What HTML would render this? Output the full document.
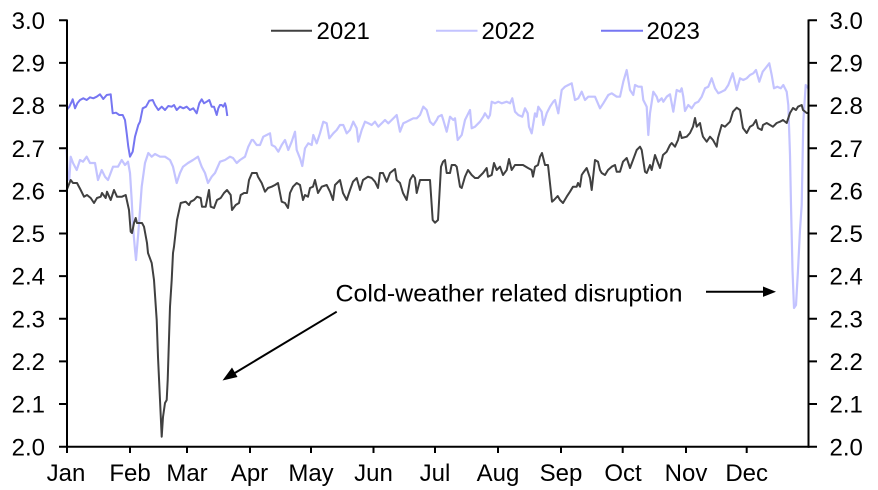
<!DOCTYPE html>
<html><head><meta charset="utf-8"><style>
html,body{margin:0;padding:0;background:#fff;}
svg{display:block;}
text{font-family:"Liberation Sans",Arial,sans-serif;font-size:24px;fill:#000;}
</style></head><body>
<svg width="878" height="490" viewBox="0 0 878 490" xmlns="http://www.w3.org/2000/svg">
<!-- 2022 -->
<polyline fill="none" stroke="#c3c3ff" stroke-width="2.2" stroke-linejoin="round" points="66.7,150 67.7,176.7 69.3,180 70.7,156.7 73,163 76.7,170 80,160 83,161.7 86.7,156.7 90,163 95,163 98,180 101.7,170 105,176.7 108,180 113,166.7 118,166.7 121.7,160 125,165 128,161.7 130,173 131.7,200 133,226.7 135,250 136,260 138.3,233 141.7,186.7 145,163 148.3,153 151.7,156.7 155,154 160,156.7 165,156.7 170,160 173,166.7 176.7,183 180,173 183,166.7 188,163 193,160 198,156.7 201.7,166.7 205,173 208,183 211.7,176.7 215,173 220,161.7 225,160 230,156.7 233,158 236.7,163 240,160 245,156.7 248.3,146.7 251.7,140 253,140 256.7,145 260,145 263.3,136.7 266.7,135 270,133.3 271.7,145 275,146.7 278.3,151.7 281.7,145 285,140 288.3,150 291.7,141.7 295,131.7 296.7,150 300,158.3 302.3,166 305,148.3 308.3,143.3 311.7,145 313.3,135 316.7,143.3 320,133.3 323.3,121.7 326.7,123.3 329.3,138.3 333.3,133.3 336.7,130 340,125 343.3,125 346.7,133.3 350,130 353.3,121.7 356.7,128.3 358.3,141.7 361.7,130 365,121.7 368.3,123.3 371.7,125 375,121.7 378.3,126.7 381.7,123.3 385,120 388.3,123.3 391.7,120 396.7,115 400,131.7 403.3,123.3 406.7,121.7 410,120 413.3,118.3 416.7,118.3 420,115 423.3,106.7 426.7,110 430,121.7 433.3,125 436.7,120 438.3,116.7 441.7,115 443.3,120 446.7,131.7 450,116.7 453.3,120 455,118.3 457.7,140 461.7,135 465,120 468.3,113.3 470,110 471.7,128.3 475,126.7 480,121.7 483.3,116.7 485,113.3 488.3,118.3 490,115 491.7,101.7 495,103.3 498.3,101.7 501.7,103.3 506.7,101.7 510,103.3 512.3,98.3 515,111.7 518.3,115 522.3,116.7 525,108.3 527.7,113.3 529,126.7 531.7,133.3 535,113.3 536.7,116.7 538.3,106.7 541.7,111.7 543.3,125 546.7,113.3 550,106.7 553.3,101.7 555,100 558.3,113.3 561.7,90 565,86.7 568.3,85 571.7,83.3 575,100 578.3,98.3 581.7,91.7 585,100 588.3,96.7 591.7,96.7 595,96.7 600,108.3 603.3,103.3 608.3,95 611.7,93.3 616.7,96.7 620,96.7 623.3,81.7 626.7,70 630,90 633.3,95 635,85 638.3,86.7 641.7,86.7 643.3,100 646.7,106.7 648.3,135 650,113.3 653.3,91.7 656.7,96.7 658.3,101.7 661.7,98.3 663.3,101.7 666.7,96.7 670,94.3 673.3,111.7 676.7,90 680,91.7 681.7,88.3 683.3,96.7 685,111 688.3,105 691.7,108.3 695,103.3 698.3,101.7 701.7,96.7 705,88.3 708.3,86.7 711.7,78.3 715,88.3 718.3,93.3 721.7,91.7 725,90 728.3,85 732.7,73.3 736.7,90 740,78.3 743.3,80 746.7,78.3 750,75 753.3,73.3 756,70 759.3,81.7 762.7,71.7 766.7,66.7 769.3,63.3 771.7,75 774,88.3 777.3,86.7 780.7,88.3 783.3,85 786.7,91.7 788.3,105 790,155 791,205 792.5,270 794,308 796,305 798,270 800,230 801.7,205 803.3,121.7 805.7,85 808.3,88.3"/>
<!-- 2021 -->
<polyline fill="none" stroke="#404040" stroke-width="2" stroke-linejoin="round" points="66.7,190 70.7,180 73,183 77,183 80.7,190 84,196.7 87,195 90.7,198 94,203 97,198 100.7,196.7 102,193 105.7,198 107,191.7 110.7,200 114,190 117,196.7 122,196.7 125.7,195 129,210 130.7,231.7 132,233 134,223 135.7,218 137,223 142,223 144,226.7 147,243 148,253 151.7,263 154,280 156.7,320 158,357 160,400 161.7,436.7 163,417 165,403 166.7,400 167.7,380 170,306.7 171.7,280 173,253 174,246.7 177,220 180.7,203 185.7,201.7 189,205 190.7,201.7 194,200 197,196.7 200.7,198 202,206.7 205.7,206.7 209,190 210.7,206.7 214,208 217,200 220.7,198 224,193 227,190 230.7,195 232,210 235.7,205 239,203 240.7,195 244,193 247,193 249,180 252,173 256.7,173 258,176.7 261.7,183 265,191.7 268,188 271.7,186.7 275,185 278,183 281.7,201.7 285,203 288,208 290,193 293,186.7 296.7,183 300,185 303,200 305,195 308,196.7 310,188 313,186.7 315,180 318,193 321.7,186.7 326.7,185 330,191.7 333,200 335,185 340,180 343,193 346.7,200 350,190 353,181.7 356.7,178 360,190 363,180 368,176.7 371.7,178 375,181.7 378,188 380,173 383,173 386.7,181.7 390,173 395,169 396.7,180 400,183 403,193 406.7,200 410,180 413,175 415,178 416.7,193 420,180 423,180 430,180 432.7,220 435,222.7 438,220 441,166.7 443,161.7 445,160 446.7,173 450,173 451.7,165 455,165 456.7,166.7 460,186.7 461.7,188 465,176.7 468,170 471.7,175 475,178 478,178 483,173 486.7,168 488,176.7 491.7,175 494,163 496.7,170 500,166.7 503,175 506.7,170 509,159 511.7,170 515,165 520,165 523,165 528,168 531.7,170 533,176.7 535,166.7 538,165 540,156.7 542,153 545,165 548,165 552,201.7 554,200 557.7,196 560,200 563,203 566.7,196.7 570,191.7 573,186.7 576.7,186.7 578,183 580,186.7 581.7,175 583,173 586.7,168 590,178 591.7,190 595,160 598,161.7 600,170 601.7,173 605,175 608,170 611.7,166.7 615,165 616.7,171.7 620,171.7 623,161.7 626.7,158 630,168 633,160 636.7,150 640,146.7 641.7,150 645,171.7 646.7,173 650,165 651.7,170 655,155 658,163 660,168 663,155 666.7,151.7 670,145 671.7,143 675,146.7 678,140 680,131.7 681.7,138 686.7,136.7 690,133 693,126.7 695,118 696.7,126.7 700,123 701.7,131.7 703,136.7 706.7,141.7 710,136.7 713,140 716.7,146.7 718,138 721.7,125 725,126.7 730,121.7 733,111.7 736.7,107.7 740,110 743,128 746.7,133 750,126.7 753,125 756,120 758,128 761.7,130 763,125 766.7,123 770,125 773,126.7 776.7,123 780,121.7 783,120 786.7,123 790,113 793,108 796,110 798,106.7 801.7,105 803,110 806.7,113 808,113"/>
<!-- 2023 -->
<polyline fill="none" stroke="#7676f2" stroke-width="2" stroke-linejoin="round" points="66.7,110 69.3,106.7 71.7,101.7 72.7,99.3 75,108.3 77.3,103.3 80,100 83.3,98.3 86.7,100 90,97.3 93.3,98.3 96.7,96.7 100,94.3 103.3,99 106.7,95 110.7,94.3 112.7,113.3 116,112.7 119.3,115 122.7,115 125,120 126.7,133.3 128.3,146.7 130,156.7 132.7,151.7 135,136.7 138.3,125 140,121.7 142.7,108.3 146,106.7 149.3,100.7 152.7,100 155,105 158.3,110 161.7,106.7 165,110 168.3,106 171.7,106.7 174,105 176.7,110 180,106.7 183.3,108.3 186.7,106.7 190,110 193.3,108.3 196.7,113.3 199.3,103.3 201.7,99.3 204,103.3 206.7,101.7 209.3,100 211.7,106.7 214,106.7 216.7,115 218.3,108.3 220,105 221.7,105 223.3,106.7 225,103.3 226,106.7 227.3,116"/>
<!-- axes -->
<g stroke="#000" stroke-width="2" fill="none">
<line x1="67" y1="19.5" x2="67" y2="447.7"/>
<line x1="808.5" y1="19.5" x2="808.5" y2="447.7"/>
<line x1="66" y1="446.7" x2="809.5" y2="446.7"/>
<path d="M59,20.3H67M59,62.9H67M59,105.6H67M59,148.2H67M59,190.9H67M59,233.5H67M59,276.1H67M59,318.8H67M59,361.4H67M59,404H67M59,446.7H67"/>
<path d="M808.5,20.3H817M808.5,62.9H817M808.5,105.6H817M808.5,148.2H817M808.5,190.9H817M808.5,233.5H817M808.5,276.1H817M808.5,318.8H817M808.5,361.4H817M808.5,404H817M808.5,446.7H817"/>
<path d="M67,446.7V453M130,446.7V453M187,446.7V453M250,446.7V453M311,446.7V453M373.5,446.7V453M435,446.7V453M498,446.7V453M561,446.7V453M622.7,446.7V453M686,446.7V453M746.7,446.7V453"/>
</g>
<!-- left labels -->
<g text-anchor="end">
<text x="45" y="28.9">3.0</text>
<text x="45" y="71.5">2.9</text>
<text x="45" y="114.2">2.8</text>
<text x="45" y="156.8">2.7</text>
<text x="45" y="199.5">2.6</text>
<text x="45" y="242.1">2.5</text>
<text x="45" y="284.7">2.4</text>
<text x="45" y="327.4">2.3</text>
<text x="45" y="370">2.2</text>
<text x="45" y="412.6">2.1</text>
<text x="45" y="455.3">2.0</text>
</g>
<g text-anchor="start">
<text x="829.5" y="28.9">3.0</text>
<text x="829.5" y="71.5">2.9</text>
<text x="829.5" y="114.2">2.8</text>
<text x="829.5" y="156.8">2.7</text>
<text x="829.5" y="199.5">2.6</text>
<text x="829.5" y="242.1">2.5</text>
<text x="829.5" y="284.7">2.4</text>
<text x="829.5" y="327.4">2.3</text>
<text x="829.5" y="370">2.2</text>
<text x="829.5" y="412.6">2.1</text>
<text x="829.5" y="455.3">2.0</text>
</g>
<g text-anchor="middle">
<text x="66" y="480.8">Jan</text>
<text x="130" y="480.8">Feb</text>
<text x="187" y="480.8">Mar</text>
<text x="249.5" y="480.8">Apr</text>
<text x="311" y="480.8">May</text>
<text x="373.5" y="480.8">Jun</text>
<text x="435" y="480.8">Jul</text>
<text x="498" y="480.8">Aug</text>
<text x="561" y="480.8">Sep</text>
<text x="623" y="480.8">Oct</text>
<text x="686" y="480.8">Nov</text>
<text x="746.7" y="480.8">Dec</text>
</g>
<!-- legend -->
<line x1="271" y1="30.7" x2="312" y2="30.7" stroke="#404040" stroke-width="2"/>
<text x="316.5" y="39.2">2021</text>
<line x1="436" y1="30.7" x2="477.5" y2="30.7" stroke="#c3c3ff" stroke-width="2"/>
<text x="481.5" y="39.2">2022</text>
<line x1="601" y1="30.7" x2="643" y2="30.7" stroke="#7676f2" stroke-width="2"/>
<text x="646.5" y="39.2">2023</text>
<!-- annotation -->
<text x="335.5" y="301.7" textLength="347" lengthAdjust="spacingAndGlyphs">Cold-weather related disruption</text>
<line x1="706" y1="291.7" x2="764" y2="291.7" stroke="#000" stroke-width="2"/>
<polygon points="776,291.7 763,286.5 763,296.9" fill="#000"/>
<line x1="336.7" y1="311.7" x2="234" y2="373.5" stroke="#000" stroke-width="2"/>
<polygon points="222.5,380.5 232,367.5 237.5,377" fill="#000"/>
</svg>
</body></html>
